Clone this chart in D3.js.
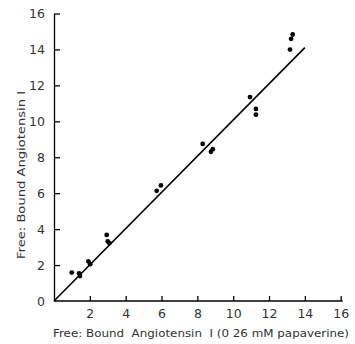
<!DOCTYPE html>
<html><head><meta charset="utf-8">
<script src="https://cdn.jsdelivr.net/npm/d3@7"></script>
<style>body{margin:0;background:#fff}svg{display:block}</style>
</head><body>
<script>
const xValues = [0.99, 1.40, 1.45, 1.92, 2.02, 2.94, 3.00, 3.09, 5.73, 5.97, 8.30, 8.76, 8.86, 10.94, 11.27, 11.27, 13.17, 13.23, 13.32];
const yValues = [1.58, 1.54, 1.39, 2.20, 2.05, 3.68, 3.31, 3.22, 6.13, 6.43, 8.74, 8.30, 8.45, 11.35, 10.69, 10.37, 13.99, 14.59, 14.83];
const lineX = [0, 14];
const lineY = [0, 14.1];
const xTicks = [2, 4, 6, 8, 10, 12, 14, 16];
const yTicks = [0, 2, 4, 6, 8, 10, 12, 14, 16];
const xTitle = "Free: Bound  Angiotensin  I (0 26 mM papaverine)";
const yTitle = "Free: Bound Angiotensin I";

const W = 355, H = 344;
const svg = d3.select("body").append("svg").attr("width", W).attr("height", H);
const x = d3.scaleLinear().domain([0, 16]).range([54, 340.7]);
const y = d3.scaleLinear().domain([0, 16]).range([301, 13.5]);
const font = "'DejaVu Sans', 'Liberation Sans', sans-serif";

// axes
const xAxis = svg.append("g").attr("transform", `translate(0,${y(0)})`)
  .call(d3.axisBottom(x).tickValues(xTicks).tickSizeInner(-5).tickSizeOuter(0).tickPadding(8).tickFormat(d3.format("d")));
xAxis.select(".domain").attr("d", `M${x(0)},0H${x(16) + 2}`);
const yAxis = svg.append("g").attr("transform", `translate(${x(0)},0)`)
  .call(d3.axisLeft(y).tickValues(yTicks).tickSizeInner(-6).tickSizeOuter(0).tickPadding(9).tickFormat(d3.format("d")));
[xAxis, yAxis].forEach(g => {
  g.selectAll(".domain").attr("stroke", "#000").attr("stroke-width", 1.3);
  g.selectAll(".tick line").attr("stroke", "#000").attr("stroke-width", 1.3);
  g.selectAll("text").attr("font-family", font).attr("font-size", 12.5).attr("fill", "#333");
});
yAxis.selectAll(".tick").filter(d => d === 0).select("line").remove();

// fit line
svg.append("line")
  .attr("x1", x(lineX[0])).attr("y1", y(lineY[0]))
  .attr("x2", x(lineX[1])).attr("y2", y(lineY[1]))
  .attr("stroke", "#000").attr("stroke-width", 1.6);

// points
svg.append("g").selectAll("circle").data(xValues.map((v, i) => [v, yValues[i]]))
  .join("circle").attr("cx", d => x(d[0])).attr("cy", d => y(d[1])).attr("r", 2.4).attr("fill", "#000");

// titles
svg.append("text").attr("x", 201).attr("y", 337).attr("text-anchor", "middle")
  .attr("textLength", 296).attr("lengthAdjust", "spacingAndGlyphs")
  .style("white-space", "pre")
  .attr("font-family", font).attr("font-size", 11).attr("fill", "#333").text(xTitle);
svg.append("text").attr("transform", "translate(25,175) rotate(-90)").attr("text-anchor", "middle")
  .attr("textLength", 168).attr("lengthAdjust", "spacingAndGlyphs")
  .attr("font-family", font).attr("font-size", 11).attr("fill", "#333").text(yTitle);
</script>
</body></html>
